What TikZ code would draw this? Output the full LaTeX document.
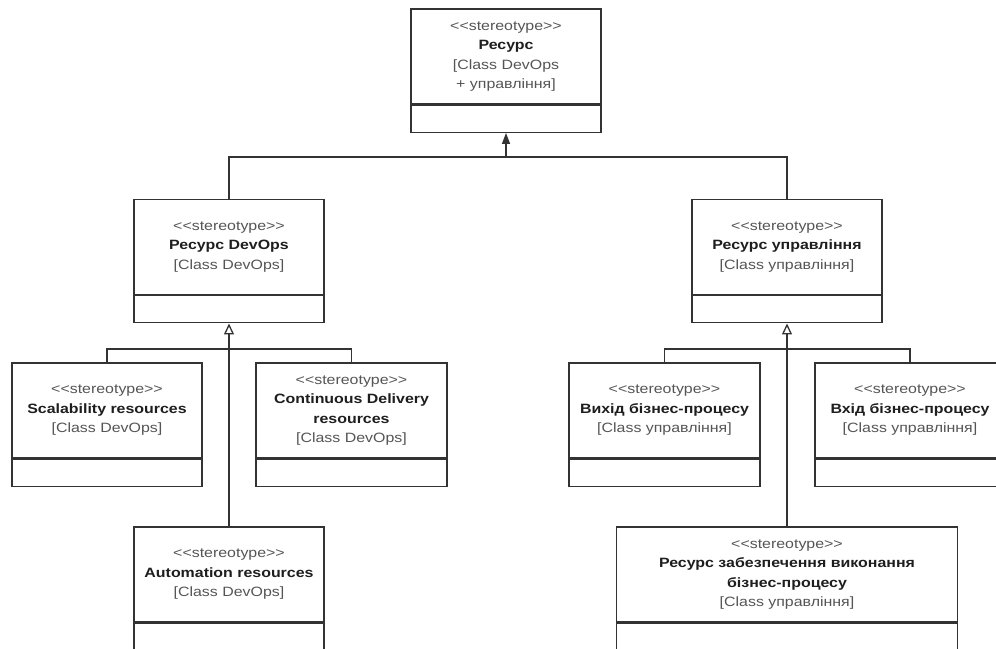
\documentclass[tikz,border=0pt]{standalone}
\usepackage{fontspec}
\setmainfont[FakeStretch=1.18]{Liberation Sans}
\usetikzlibrary{arrows.meta}

\definecolor{edge}{HTML}{333333}
\definecolor{stereo}{HTML}{555555}
\definecolor{title}{HTML}{1E1E1E}

% single lines of a stereotyped class header
\newcommand{\stereoline}{\textcolor{stereo}{<{}<stereotype>{}>}}
\newcommand{\nameline}[1]{\textcolor{title}{\bfseries #1}}
\newcommand{\kindline}[1]{\textcolor{stereo}{#1}}

\tikzset{
  classhead/.style={draw=edge, line width=1.3pt, fill=white, minimum height=95pt,
    inner sep=0pt, align=center, font=\fontsize{13.5}{19.5}\selectfont},
  classbody/.style={draw=edge, line width=1.3pt, fill=white, minimum height=27pt,
    inner sep=0pt, anchor=north},
  link/.style={draw=edge, line width=1.3pt},
  realizes/.style={link, -{Triangle[length=11pt,width=8pt]}},
  generalizes/.style={link, -{Triangle[open,length=11pt,width=10pt]}}
}

\begin{document}
\begin{tikzpicture}[x=1pt, y=-1pt]
\useasboundingbox (0,0) rectangle (996,648);
\clip (0,0) rectangle (996,648);

% root class
\node[classhead, minimum width=190pt] (res) at (506,56.5)
  {\stereoline\\\nameline{Ресурс}\\\kindline{[Class DevOps}\\\kindline{+ управління]}};
\node[classbody, minimum width=190pt] (resb) at (res.south) {};

% second level
\node[classhead, minimum width=190pt] (devops) at (229,247)
  {\stereoline\\\nameline{Ресурс DevOps}\\\kindline{[Class DevOps]}};
\node[classbody, minimum width=190pt] (devopsb) at (devops.south) {};

\node[classhead, minimum width=190pt] (mgmt) at (787,247)
  {\stereoline\\\nameline{Ресурс управління}\\\kindline{[Class управління]}};
\node[classbody, minimum width=190pt] (mgmtb) at (mgmt.south) {};

% DevOps children
\node[classhead, minimum width=190pt] (scal) at (107,410.5)
  {\stereoline\\\nameline{Scalability resources}\\\kindline{[Class DevOps]}};
\node[classbody, minimum width=190pt] (scalb) at (scal.south) {};

\node[classhead, minimum width=191pt] (cd) at (351.5,410.5)
  {\stereoline\\\nameline{Continuous Delivery}\\\nameline{resources}\\\kindline{[Class DevOps]}};
\node[classbody, minimum width=191pt] (cdb) at (cd.south) {};

\node[classhead, minimum width=190pt] (auto) at (229,574.5)
  {\stereoline\\\nameline{Automation resources}\\\kindline{[Class DevOps]}};
\node[classbody, minimum width=190pt] (autob) at (auto.south) {};

% management children
\node[classhead, minimum width=191pt] (out) at (664.5,410.5)
  {\stereoline\\\nameline{Вихід бізнес-процесу}\\\kindline{[Class управління]}};
\node[classbody, minimum width=191pt] (outb) at (out.south) {};

\node[classhead, minimum width=190pt] (in) at (910,410.5)
  {\stereoline\\\nameline{Вхід бізнес-процесу}\\\kindline{[Class управління]}};
\node[classbody, minimum width=190pt] (inb) at (in.south) {};

\node[classhead, minimum width=341pt] (supp) at (787,574.5)
  {\stereoline\\\nameline{Ресурс забезпечення виконання}\\\nameline{бізнес-процесу}\\\kindline{[Class управління]}};
\node[classbody, minimum width=341pt] (suppb) at (supp.south) {};

% junction points of the tree connectors
\coordinate (jroot) at (506,157);
\coordinate (jdev) at (229,349);
\coordinate (jmgmt) at (787,349);

% root level
\draw[link] (devops.north) |- (jroot) -| (mgmt.north);
\draw[realizes] (jroot) -- (resb.south);

% DevOps branch
\draw[link] (scal.north) |- (jdev) -| (cd.north);
\draw[link] (auto.north) -- (jdev);
\draw[generalizes] (jdev) -- (devopsb.south);

% management branch
\draw[link] (out.north) |- (jmgmt) -| (in.north);
\draw[link] (supp.north) -- (jmgmt);
\draw[generalizes] (jmgmt) -- (mgmtb.south);
\end{tikzpicture}
\end{document}
